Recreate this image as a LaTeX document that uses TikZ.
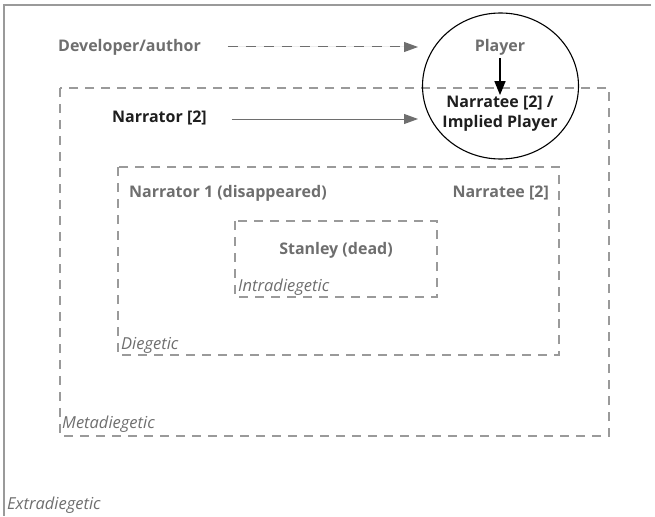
\documentclass[tikz,border=0pt]{standalone}
\usepackage{fontspec}
\setmainfont{Open Sans}
\usetikzlibrary{arrows.meta}
\definecolor{txtgray}{HTML}{6E6E6E}
\definecolor{linegray}{HTML}{9A9A9A}
\definecolor{dark}{HTML}{1E1E1E}
\tikzset{
  lbl/.style={font=\bfseries\fontsize{16}{20}\selectfont, text=txtgray, inner sep=0pt},
  lbldark/.style={lbl, text=dark},
  levelname/.style={font=\itshape\fontsize{16.5}{20}\selectfont, text=txtgray, inner sep=0pt, anchor=west},
  levelbox/.style={draw=linegray, line width=1.1pt, dash pattern=on 9pt off 7pt},
  grayarrow/.style={draw=txtgray, line width=1pt, -{Triangle[length=14pt,width=10pt]}, fill=txtgray},
  darkarrow/.style={draw=black, line width=1.6pt, -{Triangle[length=14pt,width=11pt]}},
}
\begin{document}
\begin{tikzpicture}[x=1pt, y=-1pt]
\useasboundingbox (0,0) rectangle (655,516);

% outer frame (top and left edges)
\draw[linegray, line width=1.6pt] (651,5) -- (4,5) -- (4,516);

% nested narrative levels
\draw[levelbox] (60,88) rectangle (609,436);
\draw[levelbox] (118,167) rectangle (559,355);
\draw[levelbox] (235,221) rectangle (437,297);

% circle around player / implied player
\draw[black, line width=1.1pt] (500.5,86) ellipse [x radius=78, y radius=73];

% texts
\node[lbl, anchor=west] (dev) at (58,47) {Developer/author};
\node[lbl] (player) at (500,47) {Player};
\node[lbldark, anchor=west] (narr2) at (112,118) {Narrator [2]};
\node[lbldark, align=center, font=\bfseries\fontsize{16}{20}\selectfont] (narratee) at (500,114) {Narratee [2] /\\Implied Player};
\node[lbl, anchor=west] (narr1) at (129,193) {Narrator 1 (disappeared)};
\node[lbl, anchor=east] (narratee2) at (549,193) {Narratee [2]};
\node[lbl] (stanley) at (336,250) {Stanley (dead)};

\node[levelname] (intra) at (238,287) {Intradiegetic};
\node[levelname] (dieg) at (121,345) {Diegetic};
\node[levelname] (meta) at (62,424) {Metadiegetic};
\node[levelname] (extra) at (7,505) {Extradiegetic};

% arrow tips just outside the circle
\coordinate (tipdev) at (418,47);
\coordinate (tipnarr) at (418,119);

% connectors
\draw[grayarrow, dash pattern=on 10pt off 8pt, shorten <=27pt] (dev.east) -- (tipdev);
\draw[grayarrow, shorten <=25pt] (narr2.east |- tipnarr) -- (tipnarr);
\draw[darkarrow, shorten <=3pt, shorten >=1pt] (player.south) -- (narratee.north);
\end{tikzpicture}
\end{document}
